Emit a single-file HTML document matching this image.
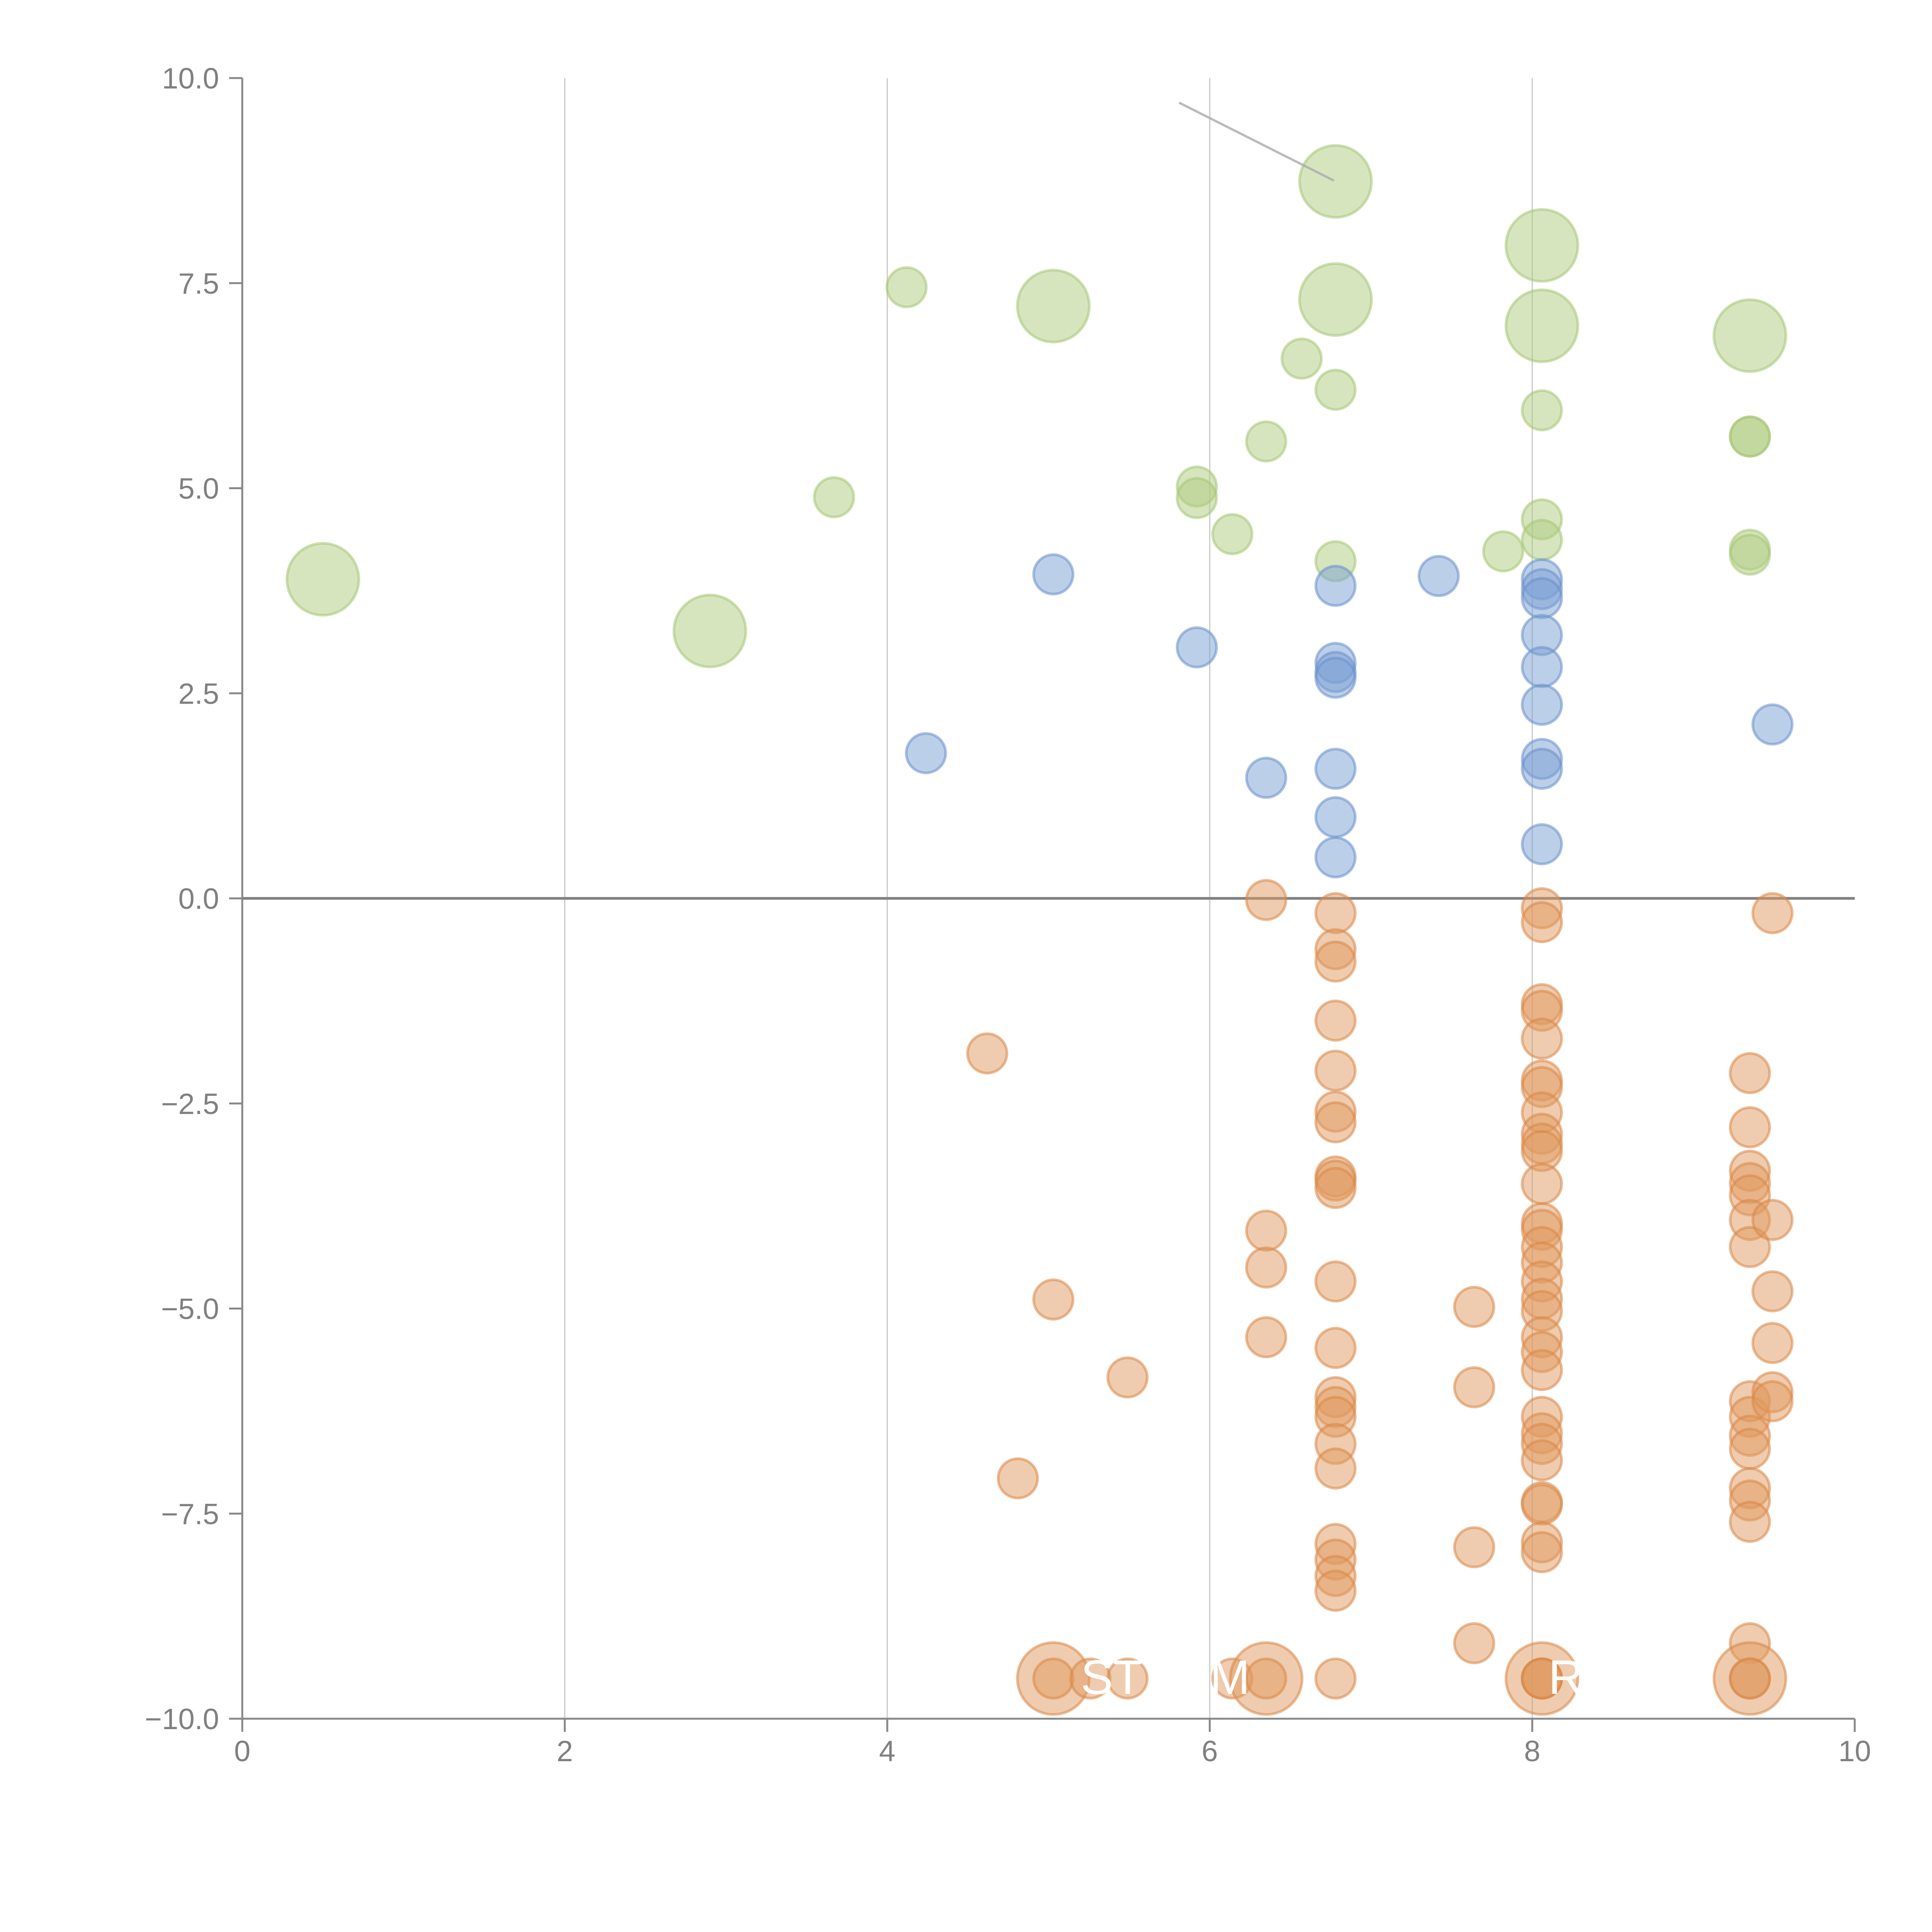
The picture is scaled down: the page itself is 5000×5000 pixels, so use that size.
<!DOCTYPE html>
<html><head><meta charset="utf-8"><style>
html,body{margin:0;padding:0;background:#fff;}
svg{display:block;}
text{font-family:"Liberation Sans",Arial,sans-serif;}
</style></head><body>
<svg id="chart" width="5000" height="5000" viewBox="0 0 5000 5000" xmlns="http://www.w3.org/2000/svg">
<g id="grid"></g>
<g id="axes"></g>
<g id="marks"></g>
<g id="annot"></g>
</svg>
<script>
const xTicks=[0,2,4,6,8,10];
const xTickLabels=["0","2","4","6","8","10"];
const yTicks=[10,7.5,5,2.5,0,-2.5,-5,-7.5,-10];
const yTickLabels=["10.0","7.5","5.0","2.5","0.0","\u22122.5","\u22125.0","\u22127.5","\u221210.0"];

const greenX=[0.50,2.90,3.67,4.12,5.03,5.92,5.92,6.14,6.35,6.57,6.78,6.78,6.78,6.78,7.82,8.06,8.06,8.06,8.06,8.06,9.35,9.35,9.35,9.35,9.35];
const greenY=[3.89,3.26,4.89,7.45,7.22,5.02,4.88,4.44,5.57,6.58,8.74,7.30,6.20,4.11,4.23,7.96,6.98,5.95,4.62,4.37,6.86,5.63,5.63,4.25,4.19];
const greenS=[3,3,1,1,3,1,1,1,1,1,3,3,1,1,1,3,3,1,1,1,3,1,1,1,1];

const blueX=[4.24,5.03,5.92,6.35,6.78,6.78,6.78,6.78,6.78,6.78,6.78,7.42,8.06,8.06,8.06,8.06,8.06,8.06,8.06,8.06,8.06,9.49];
const blueY=[1.77,3.95,3.06,1.47,3.81,2.87,2.76,2.69,1.58,0.99,0.50,3.93,3.89,3.77,3.66,3.21,2.82,2.36,1.70,1.58,0.66,2.12];

const orangeX=[6.35,6.78,6.78,6.78,6.78,6.78,6.78,6.78,6.78,6.78,6.78,6.78,6.78,6.78,6.78,6.78,6.78,6.78,6.78,6.78,6.78,6.78,6.78,
4.62,4.81,5.03,5.49,6.35,6.35,6.35,7.64,7.64,7.64,7.64,
8.06,8.06,8.06,8.06,8.06,8.06,8.06,8.06,8.06,8.06,8.06,8.06,8.06,8.06,8.06,8.06,8.06,8.06,8.06,8.06,8.06,8.06,8.06,8.06,8.06,8.06,8.06,8.06,8.06,8.06,
9.35,9.35,9.35,9.35,9.35,9.35,9.35,9.35,9.35,9.35,9.35,9.35,9.35,9.35,9.35,
9.49,9.49,9.49,9.49,9.49,9.49,
5.03,5.03,5.26,5.49,6.14,6.35,6.35,8.06,8.06,8.06,8.06,9.35,9.35,9.35];
const orangeY=[-0.02,-0.18,-0.62,-0.77,-1.49,-2.10,-2.60,-2.73,-3.39,-3.44,-3.53,-4.67,-5.48,-6.08,-6.20,-6.32,-6.65,-6.95,-7.87,-8.06,-8.26,-8.44,-9.51,
-1.89,-7.07,-4.89,-5.84,-4.05,-4.50,-5.35,-4.98,-5.96,-7.91,-9.08,
-0.12,-0.29,-1.29,-1.37,-1.71,-2.22,-2.30,-2.61,-2.87,-2.99,-3.08,-3.48,-3.96,-4.04,-4.25,-4.44,-4.67,-4.88,-5.03,-5.35,-5.53,-5.75,-6.32,-6.52,-6.65,-6.85,-7.36,-7.39,-7.85,-7.97,
-2.13,-2.79,-3.32,-3.47,-3.62,-3.92,-4.25,-6.13,-6.32,-6.55,-6.71,-7.19,-7.34,-7.60,-9.08,
-0.18,-3.92,-4.79,-5.42,-6.02,-6.13,
-9.51,-9.51,-9.51,-9.51,-9.51,-9.51,-9.51,-9.51,-9.51,-9.51,-9.51,-9.51,-9.51,-9.51];
const orangeS=[1,1,1,1,1,1,1,1,1,1,1,1,1,1,1,1,1,1,1,1,1,1,1,
1,1,1,1,1,1,1,1,1,1,1,
1,1,1,1,1,1,1,1,1,1,1,1,1,1,1,1,1,1,1,1,1,1,1,1,1,1,1,1,1,1,
1,1,1,1,1,1,1,1,1,1,1,1,1,1,1,
1,1,1,1,1,1,
3,1,1,1,1,3,1,3,1,1,1,3,1,1];

const NS="http://www.w3.org/2000/svg";
const X0=627,X1=4800,Y0=202,Y1=4448;
function sx(v){return X0+(v-0)/(10-0)*(X1-X0);}
function sy(v){return Y0+(10-v)/(20)*(Y1-Y0);}
function rad(s){return s>1?93:51;}
function mk(tag,attrs,parent){const e=document.createElementNS(NS,tag);for(const k in attrs)e.setAttribute(k,attrs[k]);parent.appendChild(e);return e;}
const grid=document.getElementById('grid'),axes=document.getElementById('axes'),marks=document.getElementById('marks'),annot=document.getElementById('annot');

xTicks.forEach((t,i)=>{
  if(t>0&&t<10){const g=mk('line',{x1:sx(t),x2:sx(t),y1:Y0,y2:Y1,stroke:'#c8c8c8','stroke-width':3},grid);
  
  }
  const tk=mk('line',{x1:sx(t),x2:sx(t),y1:Y1,y2:Y1+34,stroke:'#888','stroke-width':5},axes);
  
  
  const lb=mk('text',{x:sx(t),y:Y1+110,'font-size':76,fill:'#808080','text-anchor':'middle'},axes);
  lb.textContent=xTickLabels[i];
  
  
});
yTicks.forEach((t,i)=>{
  const tk=mk('line',{x1:X0-34,x2:X0,y1:sy(t),y2:sy(t),stroke:'#888','stroke-width':5},axes);
  
  
  const lb=mk('text',{x:X0-60,y:sy(t)+27,'font-size':76,fill:'#808080','text-anchor':'end'},axes);
  lb.textContent=yTickLabels[i];
  
  
});
const ya=mk('line',{x1:X0,x2:X0,y1:Y0,y2:Y1,stroke:'#888','stroke-width':5},axes);


const xa=mk('line',{x1:X0,x2:X1,y1:Y1,y2:Y1,stroke:'#888','stroke-width':5},axes);


const zl=mk('line',{x1:X0,x2:X1,y1:sy(0),y2:sy(0),stroke:'#808080','stroke-width':7},axes);



function series(xs,ys,ss,fill,stroke,name){
  xs.forEach((x,i)=>{
    const c=mk('circle',{cx:sx(x),cy:sy(ys[i]),r:rad(ss?ss[i]:1),fill:fill,'fill-opacity':0.5,stroke:stroke,'stroke-opacity':0.55,'stroke-width':7},marks);
    
    
  });
}
series(greenX,greenY,greenS,'#b0cc80','#a6c674','green-bubble');
series(blueX,blueY,null,'#7a9fd4','#6a90ca','blue-bubble');
series(orangeX,orangeY,orangeS,'#e09a60','#da8646','orange-bubble');

const ln=mk('line',{x1:sx(5.81),y1:sy(9.7),x2:sx(6.77),y2:sy(8.75),stroke:'#aaa','stroke-width':6,'stroke-opacity':0.8},annot);


[["ST",5.2],["M",6.0],["R",8.1]].forEach(a=>{
  const t=mk('text',{x:sx(a[1]),y:sy(-9.51)+40,'font-size':125,fill:'#fff'},annot);
  t.textContent=a[0];
  
  
});
</script>
</body></html>
